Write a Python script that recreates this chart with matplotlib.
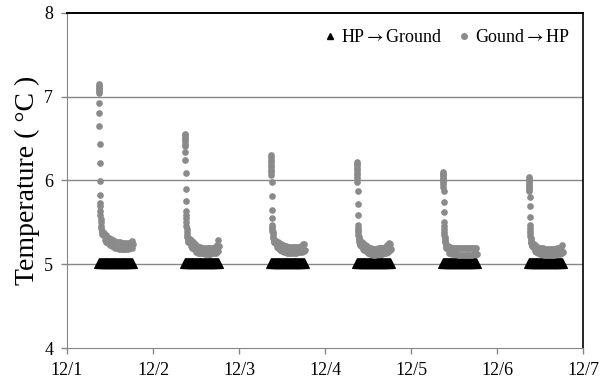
import numpy as np
import matplotlib.pyplot as plt
from matplotlib.lines import Line2D

plt.rcParams["font.family"] = ["Liberation Serif", "DejaVu Serif"]
plt.rcParams["mathtext.fontset"] = "stix"

day_labels = ["12/1", "12/2", "12/3", "12/4", "12/5", "12/6", "12/7"]

# Ground -> HP (gray dots): start-up spike, fast descent, then the afternoon tail
gh_hours = [8.90, 8.92, 8.94, 8.96, 8.98, 9.00, 9.02, 9.04, 9.06, 9.08, 9.10, 9.12, 9.14, 9.16,
            9.20, 9.25, 9.30, 9.35, 9.40, 9.50, 9.60, 9.70, 9.80, 9.90, 10.00,
            10.25, 10.50, 10.75, 11.00, 11.25, 11.50, 11.75, 12.00, 12.25, 12.50, 12.75, 13.00,
            13.25, 13.50, 13.75, 14.00, 14.25, 14.50, 14.75, 15.00, 15.25, 15.50, 15.75, 16.00,
            16.25, 16.50, 16.75, 17.00, 17.25, 17.50, 17.75, 18.00, 18.25, 18.50]

gh_day1 = [7.15, 7.13, 7.11, 7.09, 7.07, 7.04, 6.92, 6.81, 6.65, 6.43, 6.21, 5.99, 5.83, 5.73,
           5.70, 5.64, 5.59, 5.54, 5.50, 5.46, 5.43, 5.40, 5.38, 5.36, 5.35,
           5.37, 5.29, 5.35, 5.27, 5.33, 5.25, 5.31, 5.23, 5.30, 5.22, 5.29, 5.21,
           5.28, 5.20, 5.27, 5.19, 5.26, 5.18, 5.26, 5.18, 5.25, 5.18, 5.25, 5.18,
           5.25, 5.18, 5.25, 5.18, 5.25, 5.19, 5.26, 5.20, 5.28, 5.24]
gh_day2 = [6.56, 6.54, 6.52, 6.50, 6.47, 6.44, 6.41, 6.34, 6.24, 6.09, 5.90, 5.76, 5.64, 5.59,
           5.55, 5.50, 5.46, 5.42, 5.38, 5.35, 5.32, 5.30, 5.28, 5.27, 5.26,
           5.30, 5.22, 5.28, 5.20, 5.26, 5.18, 5.24, 5.15, 5.22, 5.14, 5.21, 5.13,
           5.21, 5.13, 5.20, 5.13, 5.20, 5.12, 5.20, 5.12, 5.20, 5.12, 5.20, 5.12,
           5.20, 5.13, 5.20, 5.13, 5.21, 5.14, 5.23, 5.16, 5.29, 5.22]
gh_day3 = [6.30, 6.28, 6.25, 6.22, 6.19, 6.16, 6.13, 6.10, 6.06, 5.98, 5.81, 5.65, 5.55, 5.47,
           5.45, 5.42, 5.40, 5.38, 5.36, 5.33, 5.31, 5.29, 5.27, 5.26, 5.25,
           5.28, 5.21, 5.26, 5.19, 5.25, 5.17, 5.24, 5.16, 5.23, 5.15, 5.22, 5.15,
           5.22, 5.14, 5.21, 5.14, 5.21, 5.14, 5.21, 5.14, 5.21, 5.14, 5.21, 5.14,
           5.21, 5.15, 5.21, 5.15, 5.22, 5.15, 5.24, 5.16, 5.24, 5.17]
gh_day4 = [6.22, 6.20, 6.18, 6.15, 6.12, 6.09, 6.06, 6.03, 5.98, 5.87, 5.72, 5.59, 5.47, 5.43,
           5.41, 5.38, 5.35, 5.33, 5.31, 5.29, 5.27, 5.25, 5.24, 5.23, 5.22,
           5.26, 5.18, 5.24, 5.17, 5.23, 5.16, 5.22, 5.14, 5.20, 5.12, 5.19, 5.12,
           5.18, 5.11, 5.18, 5.11, 5.18, 5.12, 5.19, 5.12, 5.19, 5.12, 5.19, 5.12,
           5.20, 5.13, 5.21, 5.14, 5.23, 5.15, 5.25, 5.17, 5.24, 5.18]
gh_day5 = [6.10, 6.08, 6.06, 6.04, 6.02, 6.00, 5.98, 5.96, 5.92, 5.87, 5.74, 5.62, 5.50, 5.46,
           5.42, 5.38, 5.35, 5.32, 5.30, 5.28, 5.26, 5.24, 5.22, 5.20, 5.19,
           5.22, 5.14, 5.21, 5.13, 5.20, 5.12, 5.19, 5.12, 5.19, 5.12, 5.19, 5.11,
           5.19, 5.11, 5.19, 5.11, 5.19, 5.11, 5.19, 5.11, 5.19, 5.11, 5.19, 5.11,
           5.19, 5.11, 5.19, 5.11, 5.20, 5.12, 5.20, 5.12, 5.20, 5.12]
gh_day6 = [6.04, 6.02, 6.00, 5.98, 5.96, 5.94, 5.92, 5.90, 5.88, 5.80, 5.70, 5.57, 5.47, 5.43,
           5.40, 5.37, 5.34, 5.31, 5.29, 5.27, 5.25, 5.24, 5.23, 5.22, 5.21,
           5.24, 5.16, 5.22, 5.15, 5.21, 5.13, 5.20, 5.12, 5.19, 5.12, 5.19, 5.11,
           5.18, 5.11, 5.18, 5.11, 5.18, 5.11, 5.18, 5.11, 5.18, 5.11, 5.18, 5.11,
           5.18, 5.12, 5.19, 5.12, 5.19, 5.12, 5.21, 5.13, 5.23, 5.15]

# HP -> Ground (black triangles), every 15 minutes
hg_hours = [9.00, 9.25, 9.50, 9.75, 10.00, 10.25, 10.50, 10.75, 11.00, 11.25,
            11.50, 11.75, 12.00, 12.25, 12.50, 12.75, 13.00, 13.25, 13.50, 13.75,
            14.00, 14.25, 14.50, 14.75, 15.00, 15.25, 15.50, 15.75, 16.00, 16.25,
            16.50, 16.75, 17.00, 17.25, 17.50, 17.75, 18.00]
hg_day1 = [5.02] * 37
hg_day2 = [5.02] * 37
hg_day3 = [5.02] * 37
hg_day4 = [5.02] * 31 + [5.01] * 6
hg_day5 = [5.02] * 37
hg_day6 = [5.02] * 31 + [5.01] * 6


def main() -> None:
    gray = "#8a8a8a"
    axis_gray = "#868686"

    fig = plt.figure(figsize=(6.0, 3.86), dpi=100)
    ax = fig.add_axes([0.1117, 0.0984, 0.86, 0.868])

    gh_series = [gh_day1, gh_day2, gh_day3, gh_day4, gh_day5, gh_day6]
    hg_series = [hg_day1, hg_day2, hg_day3, hg_day4, hg_day5, hg_day6]

    for i, temps in enumerate(hg_series):
        x = i + np.array(hg_hours) / 24.0
        ax.plot(x, temps, linestyle="none", marker="^", markersize=7.4,
                color="black", markeredgewidth=0.8, zorder=3)
    for i, temps in enumerate(gh_series):
        x = i + np.array(gh_hours) / 24.0
        ax.plot(x, temps, linestyle="none", marker="o", markersize=4.8,
                color=gray, markeredgewidth=0, zorder=3)

    ax.set_xlim(0, 6)
    ax.set_ylim(4, 8)
    ax.set_xticks(range(7))
    ax.set_xticklabels(day_labels)
    ax.set_yticks([4, 5, 6, 7, 8])

    for y in [5, 6, 7]:
        ax.axhline(y, color=axis_gray, linewidth=1.0, zorder=1)

    ax.spines["left"].set_color(axis_gray)
    ax.spines["bottom"].set_color(axis_gray)
    ax.spines["top"].set_color("black")
    ax.spines["right"].set_color("black")
    ax.spines["top"].set_linewidth(1.4)
    ax.spines["right"].set_linewidth(1.2)
    ax.tick_params(axis="both", direction="out", length=4, width=1,
                   color=axis_gray, labelsize=13, labelcolor="black")
    ax.tick_params(axis="x", pad=6)
    ax.tick_params(axis="y", pad=6)

    ax.set_ylabel("Temperature ( °C )", fontsize=20, labelpad=3)

    handles = [
        Line2D([], [], linestyle="none", marker="^", markersize=5, color="black"),
        Line2D([], [], linestyle="none", marker="o", markersize=4, color=gray),
    ]
    ax.legend(handles, [r"HP$\rightarrow$Ground", r"Gound$\rightarrow$HP"],
              loc="upper right", ncol=2, frameon=False, fontsize=13,
              handlelength=0.6, handletextpad=0.3, columnspacing=0.9,
              borderaxespad=0.3, bbox_to_anchor=(1.0, 0.99))

    fig.savefig("out.png", dpi=100)


if __name__ == "__main__":
    main()
